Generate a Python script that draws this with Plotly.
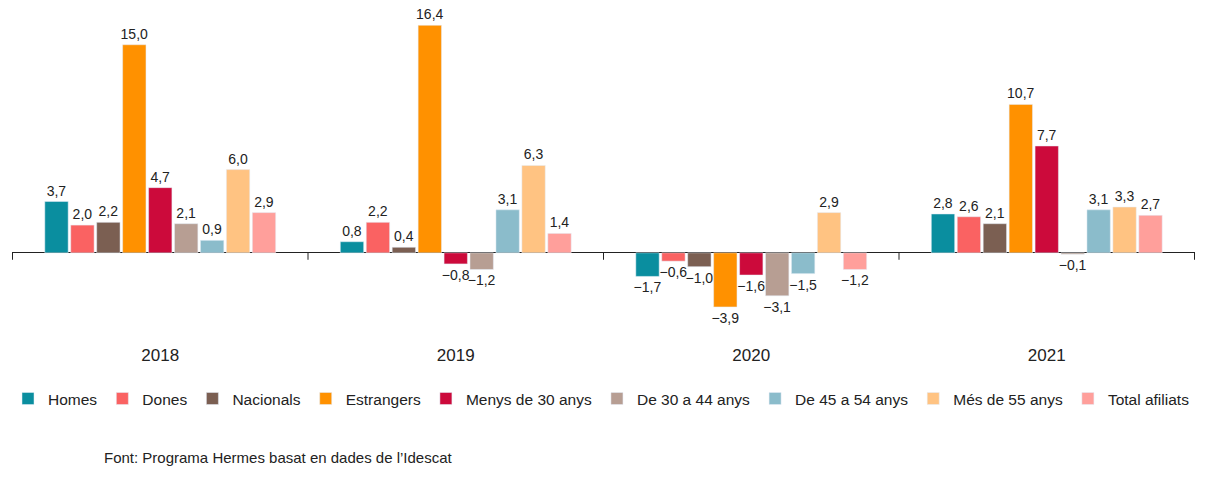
import plotly.graph_objects as go

years = ["2018", "2019", "2020", "2021"]

series_names = ["Homes", "Dones", "Nacionals", "Estrangers", "Menys de 30 anys",
                "De 30 a 44 anys", "De 45 a 54 anys", "Més de 55 anys", "Total afiliats"]

homes = [3.7, 0.8, -1.7, 2.8]
dones = [2.0, 2.2, -0.6, 2.6]
nacionals = [2.2, 0.4, -1.0, 2.1]
estrangers = [15.0, 16.4, -3.9, 10.7]
menys_30 = [4.7, -0.8, -1.6, 7.7]
de_30_44 = [2.1, -1.2, -3.1, -0.1]
de_45_54 = [0.9, 3.1, -1.5, 3.1]
mes_55 = [6.0, 6.3, 2.9, 3.3]
total = [2.9, 1.4, -1.2, 2.7]

series_values = [homes, dones, nacionals, estrangers, menys_30,
                 de_30_44, de_45_54, mes_55, total]

colors = ["#0a8e9f", "#fa6262", "#7b5f52", "#ff9100", "#cc0a3b",
          "#b79e93", "#8bbccb", "#ffc382", "#ff9f9b"]


def fmt(v):
    return f"{v:.1f}".replace(".", ",").replace("-", "\u2212")


fig = go.Figure()
for name, vals, col in zip(series_names, series_values, colors):
    fig.add_trace(go.Bar(
        x=years, y=vals, name=name, marker_color=col,
        text=[fmt(v) for v in vals], textposition="outside",
        textfont=dict(size=14, color="#222222"),
        constraintext="none", cliponaxis=False,
    ))

# small ticks on the zero line between the year groups
for i in range(len(years) + 1):
    fig.add_shape(type="line", xref="x", yref="y",
                  x0=i - 0.5, x1=i - 0.5, y0=0, y1=-0.5,
                  line=dict(color="#222222", width=1))

fig.add_annotation(text="Font: Programa Hermes basat en dades de l\u2019Idescat",
                   xref="paper", yref="paper", x=0.076, y=-0.352,
                   xanchor="left", yanchor="middle", showarrow=False,
                   font=dict(size=15, color="#222222"))

# page body adds 8px around the figure, so the figure is 8px smaller
fig.update_layout(
    width=1197, height=471,
    margin=dict(l=4, r=10, t=9, b=136),
    plot_bgcolor="white", paper_bgcolor="white",
    font=dict(family="Liberation Sans, Arial, sans-serif", color="#222222"),
    barmode="group", bargap=0.21, bargroupgap=0.1,
    showlegend=True,
    legend=dict(orientation="h", xref="container", yref="container",
                x=0.0, xanchor="left", y=0.170, yanchor="middle",
                font=dict(size=15.5), itemwidth=30, traceorder="normal"),
)
fig.update_xaxes(showline=False, ticks="", tickfont=dict(size=17),
                 showgrid=False, ticklabelstandoff=0)
fig.update_yaxes(range=[-6.5, 17], showgrid=False, showticklabels=False,
                 zeroline=True, zerolinecolor="#222222", zerolinewidth=1)

fig.write_html("out.html")
